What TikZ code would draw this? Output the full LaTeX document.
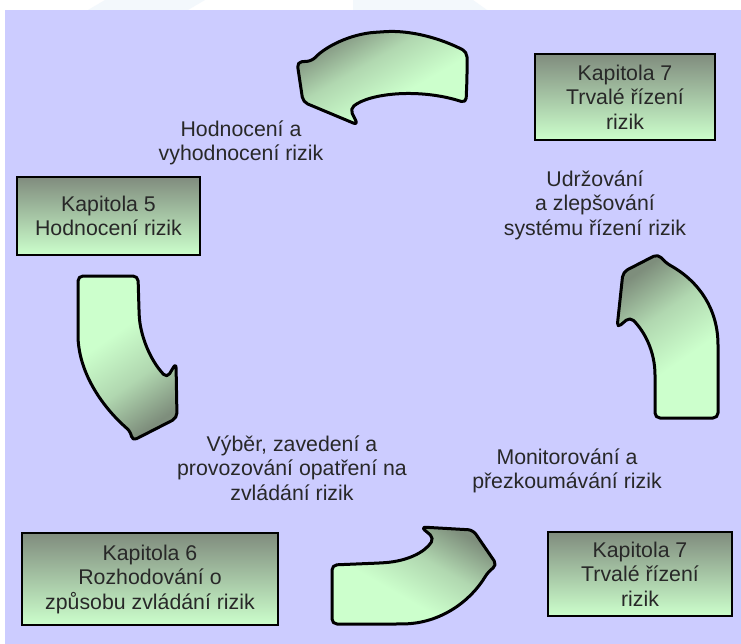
\documentclass[tikz,border=0pt]{standalone}
\usepackage{fontspec}
\setmainfont{Liberation Sans}
\definecolor{bglav}{RGB}{204,204,255}
\definecolor{lightgr}{RGB}{204,255,204}
\definecolor{darkgr}{RGB}{128,140,126}
\definecolor{arrdark}{RGB}{126,142,124}
\definecolor{txtgray}{RGB}{40,40,40}
\definecolor{faint}{RGB}{243,248,252}
\pgfdeclareverticalshading{arrshade}{100bp}{color(0bp)=(arrdark); color(25bp)=(arrdark);
  color(42bp)=(lightgr!65!arrdark); color(60bp)=(lightgr); color(100bp)=(lightgr)}
\begin{document}
\begin{tikzpicture}[x=1pt,y=-1pt,
  lab/.style={align=center,text=txtgray,inner sep=0pt,font=\fontsize{21.3}{24.5}\selectfont},
  chapbox/.style={draw=black,line width=2.8pt,top color=darkgr,bottom color=lightgr,inner sep=0pt,
    align=center,text=txtgray,font=\fontsize{21.3}{24.5}\selectfont},
  blockarrow/.style={draw=black,line width=3pt,rounded corners=5pt,line join=round,
    shading=arrshade}]
\useasboundingbox (0,0) rectangle (741,644);
\fill[white] (0,0) rectangle (741,644);
\fill[faint] (88,10) -- (105,0) -- (205,0) -- (188,10) -- cycle;
\fill[faint] (353,10) -- (353,0) -- (473,0) -- (487,10) -- cycle;
\fill[bglav] (5,10) rectangle (741,644);

% chapter boxes
\node[chapbox,minimum width=183pt,minimum height=78pt] (box5) at (108.5,216) {Kapitola 5\\Hodnocení rizik};
\node[chapbox,minimum width=180pt,minimum height=86pt] (box7a) at (625,97) {Kapitola 7\\Trvalé řízení\\rizik};
\node[chapbox,minimum width=256pt,minimum height=92pt] (box6) at (150,579) {Kapitola 6\\Rozhodování o\\způsobu zvládání rizik};
\node[chapbox,minimum width=184pt,minimum height=84pt] (box7b) at (640,574) {Kapitola 7\\Trvalé řízení\\rizik};

% labels
\node[lab] (lab1) at (241,143) {Hodnocení a\\vyhodnocení rizik};
\node[lab] (lab2) at (595,205) {Udržování\\a zlepšování\\systému řízení rizik};
\node[lab] (lab3) at (292,468) {Výběr, zavedení a\\provozování opatření na\\zvládání rizik};
\node[lab] (lab4) at (567,471) {Monitorování a\\přezkoumávání rizik};

% block arrows
\draw[blockarrow,shading angle=-150]
  (467,78) -- (467,52) .. controls (440,38) and (410,30) .. (380,32)
  .. controls (350,34) and (325,47) .. (312,61) -- (297,62) -- (303,102) -- (358,125) -- (350,109)
  .. controls (370,93) and (420,88) .. (466,103) -- cycle;
\draw[blockarrow,shading angle=35]
  (108,276) -- (138,276) -- (139,310) .. controls (140,335) and (150,360) .. (167,378)
  -- (176,363) -- (177,418) -- (132,441) -- (131,432)
  .. controls (100,405) and (78,370) .. (78,330) -- (78,276) -- cycle;
\draw[blockarrow,shading angle=150]
  (332,595) -- (332,565) -- (380,563) .. controls (408,561) and (425,552) .. (434,538)
  -- (421,527) -- (473,530) -- (497,565) -- (488,572)
  .. controls (470,602) and (440,623) .. (400,624) -- (332,624) -- cycle;
\draw[blockarrow,shading angle=-145]
  (686,418) -- (718,418) -- (718,350) .. controls (718,310) and (700,282) .. (666,263)
  -- (658,254) -- (623,272) -- (617,328) -- (630,317)
  .. controls (645,332) and (655,352) .. (655,380) -- (655,418) -- cycle;
\end{tikzpicture}
\end{document}
